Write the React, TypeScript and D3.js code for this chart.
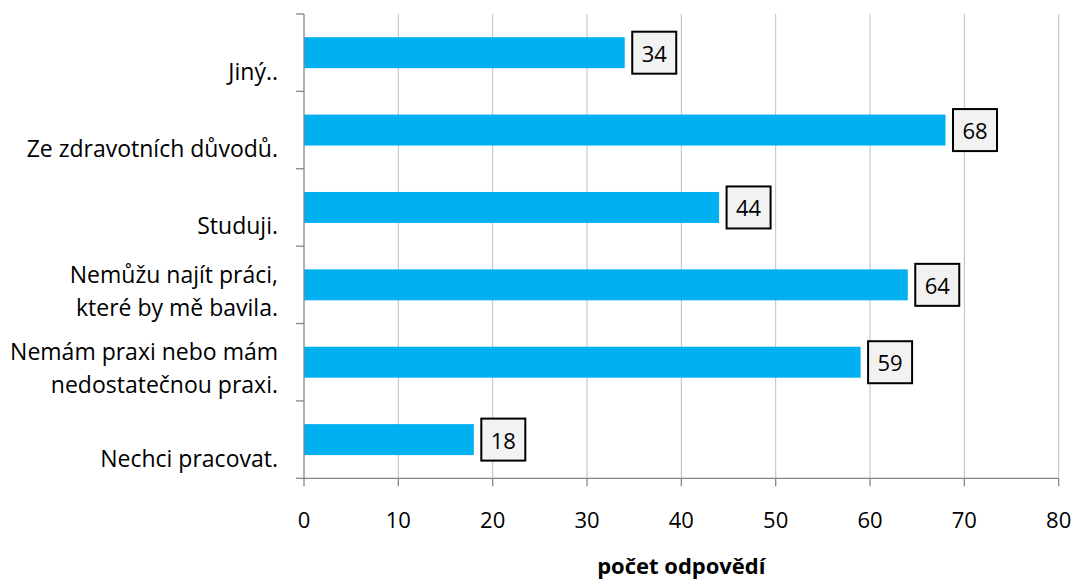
import React from 'react';
import * as d3 from 'd3';

// Reasons for not working, listed from the bottom row upwards
const categoryLines: string[][] = [
  ['Nechci pracovat.'],
  ['Nemám praxi nebo mám', 'nedostatečnou praxi.'],
  ['Nemůžu najít práci,', 'které by mě bavila.'],
  ['Studuji.'],
  ['Ze zdravotních důvodů.'],
  ['Jiný..'],
];
const counts: number[] = [18, 59, 64, 44, 68, 34];
const xTicks: number[] = [0, 10, 20, 30, 40, 50, 60, 70, 80];
const xTitle = 'počet odpovědí';

const WIDTH = 1075;
const HEIGHT = 581;
const FONT = '"Open Sans", "Noto Sans", sans-serif';
const BAR = '#00B0F0';
const GRID = '#BFBFBF';
const AXIS = '#868686';

export default function App() {
  const keys = categoryLines.map((l) => l.join(' '));
  const x = d3.scaleLinear().domain([0, 80]).range([304, 1058.7]);
  const y = d3
    .scaleBand<string>()
    .domain([...keys].reverse())
    .range([14, 478.3])
    .paddingInner(0.6)
    .paddingOuter(0.3);

  const [top, bottom] = y.range();
  const step = y.step();
  const boundaries = d3.range(keys.length + 1).map((i) => top + i * step);
  const x0 = x(0);

  return (
    <svg
      width={WIDTH}
      height={HEIGHT}
      style={{ position: 'absolute', left: 0, top: 0, background: '#fff' }}
      fontFamily={FONT}
    >
      {/* vertical gridlines */}
      {xTicks
        .filter((t) => t !== 0)
        .map((t) => (
          <line key={'g' + t} x1={x(t)} x2={x(t)} y1={top} y2={bottom} stroke={GRID} strokeWidth={1} />
        ))}

      {/* bars */}
      {keys.map((k, i) => (
        <rect
          key={'b' + k}
          x={x0}
          y={y(k)!}
          width={x(counts[i]) - x0}
          height={y.bandwidth()}
          fill={BAR}
        />
      ))}

      {/* value axis */}
      <line x1={x0} x2={x(80)} y1={bottom} y2={bottom} stroke={AXIS} strokeWidth={1.3} />
      {xTicks.map((t) => (
        <g key={'xt' + t}>
          <line x1={x(t)} x2={x(t)} y1={bottom} y2={bottom + 8} stroke={AXIS} strokeWidth={1.3} />
          <text x={x(t)} y={528} textAnchor="middle" fontSize={22} fill="#000">
            {t}
          </text>
        </g>
      ))}
      <text
        x={(x(0) + x(80)) / 2}
        y={574}
        textAnchor="middle"
        fontSize={22}
        fontWeight="bold"
        fill="#000"
      >
        {xTitle}
      </text>

      {/* category axis */}
      <line x1={x0} x2={x0} y1={top} y2={bottom} stroke={AXIS} strokeWidth={1.3} />
      {boundaries.map((b, i) => (
        <line key={'yt' + i} x1={x0 - 8} x2={x0} y1={b} y2={b} stroke={AXIS} strokeWidth={1.3} />
      ))}
      {keys.map((k, i) => {
        const c = y(k)! + y.bandwidth() / 2;
        const lines = categoryLines[i];
        const firstBaseline = lines.length === 1 ? c + 27 : c - 2;
        return (
          <text key={'yl' + k} x={278} textAnchor="end" fontSize={23} fill="#000">
            {lines.map((ln, j) => (
              <tspan key={j} x={278} y={firstBaseline + j * 33}>
                {ln}
              </tspan>
            ))}
          </text>
        );
      })}

      {/* data labels */}
      {keys.map((k, i) => {
        const c = y(k)! + y.bandwidth() / 2;
        const bx = x(counts[i]) + 7.5;
        return (
          <g key={'dl' + k}>
            <rect x={bx} y={c - 21} width={44} height={42} fill="#F2F2F2" stroke="#000" strokeWidth={2} />
            <text x={bx + 22} y={c + 9} textAnchor="middle" fontSize={22} fill="#000">
              {counts[i]}
            </text>
          </g>
        );
      })}
    </svg>
  );
}
